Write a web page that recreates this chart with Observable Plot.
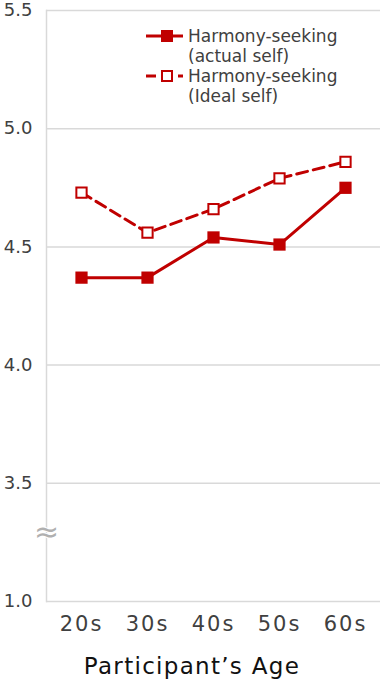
<!DOCTYPE html>
<html>
<head>
<meta charset="utf-8">
<script src="https://cdn.jsdelivr.net/npm/d3@7"></script>
<script src="https://cdn.jsdelivr.net/npm/@observablehq/plot@0.6"></script>
<style>
  html, body { margin: 0; padding: 0; background: #fff; }
  #wrap { position: relative; width: 383px; height: 686px; font-family: "DejaVu Sans", sans-serif; }
  .leg { position: absolute; left: 145px; height: 40px; }
  .leg svg { position: absolute; left: 0; top: 0; }
  .leg .txt { position: absolute; left: 43px; top: 0; font-size: 17px; line-height: 20px; color: #404040; white-space: nowrap; }
</style>
</head>
<body>
<div id="wrap"></div>
<script>
const ages = ["20s", "30s", "40s", "50s", "60s"];
const actualSelf = [4.37, 4.37, 4.54, 4.51, 4.75];
const idealSelf = [4.73, 4.56, 4.66, 4.79, 4.86];
const seriesNames = ["Harmony-seeking (actual self)", "Harmony-seeking (Ideal self)"];
const legendLines = [["Harmony-seeking", "(actual self)"], ["Harmony-seeking", "(Ideal self)"]];
const yTicks = [3.0, 3.5, 4.0, 4.5, 5.0, 5.5];
const yTickLabels = ["1.0", "3.5", "4.0", "4.5", "5.0", "5.5"];
const xTitle = "Participant\u2019s Age";
const breakMark = "\u2248";

const red = "#c00000";
const grid = "#d9d9d9";

const actualData = ages.map((a, i) => ({age: a, value: actualSelf[i], series: seriesNames[0]}));
const idealData = ages.map((a, i) => ({age: a, value: idealSelf[i], series: seriesNames[1]}));

const chart = Plot.plot({
  width: 383,
  height: 686,
  marginTop: 10,
  marginLeft: 46,
  marginRight: 3,
  marginBottom: 85,
  style: {fontFamily: "DejaVu Sans, sans-serif", background: "#fff"},
  x: {type: "point", domain: ages, padding: 0.5},
  y: {domain: [3.0, 5.5]},
  marks: [
    Plot.gridY(yTicks, {stroke: grid, strokeOpacity: 1, strokeWidth: 1.5}),
    Plot.frame({anchor: "left", stroke: grid, strokeWidth: 1.5}),
    Plot.axisY({ticks: yTicks, tickSize: 0, tickPadding: 14, fontSize: 18, fill: "#404040",
      tickFormat: d => yTickLabels[yTicks.indexOf(d)], label: null}),
    Plot.axisX({tickSize: 0, tickPadding: 15, fontSize: 21, fill: "#404040", label: null}),
    Plot.text([breakMark], {frameAnchor: "bottom-left", textAnchor: "middle", lineAnchor: "middle",
      dy: -69, fontSize: 30, fill: "#b0b0b0", stroke: "#fff", strokeWidth: 2, paintOrder: "stroke"}),
    Plot.text([xTitle], {frameAnchor: "bottom", dy: 72, dx: -21.5, fontSize: 23, fill: "#111"}),
    Plot.line(idealData, {x: "age", y: "value", stroke: red, strokeWidth: 3, strokeDasharray: "11,6"}),
    Plot.line(actualData, {x: "age", y: "value", stroke: red, strokeWidth: 3}),
    Plot.dot(idealData, {x: "age", y: "value", symbol: "square", r: 5.8, fill: "#fff", stroke: red, strokeWidth: 2}),
    Plot.dot(actualData, {x: "age", y: "value", symbol: "square", r: 6.9, fill: red, stroke: "none"})
  ]
});

d3.select(chart).selectAll('g[aria-label="x-axis tick label"] text').attr("letter-spacing", "2px");
d3.select(chart).selectAll('g[aria-label="text"] text').filter(function(){ return this.textContent === xTitle; }).attr("letter-spacing", "1.3px");

const wrap = document.getElementById("wrap");
wrap.appendChild(chart);

// legend
const legendTops = [26, 66];
legendLines.forEach((lines, i) => {
  const item = document.createElement("div");
  item.className = "leg";
  item.style.top = legendTops[i] + "px";
  const s = d3.create("svg").attr("width", 40).attr("height", 20);
  if (i === 0) {
    s.append("line").attr("x1", 1).attr("x2", 38).attr("y1", 10).attr("y2", 10).attr("stroke", red).attr("stroke-width", 3);
    s.append("rect").attr("x", 16).attr("y", 4).attr("width", 12).attr("height", 12).attr("fill", red);
  } else {
    s.append("line").attr("x1", 1).attr("x2", 38).attr("y1", 10).attr("y2", 10).attr("stroke", red).attr("stroke-width", 3).attr("stroke-dasharray", "10,6");
    s.append("rect").attr("x", 17).attr("y", 5).attr("width", 10).attr("height", 10).attr("fill", "#fff").attr("stroke", red).attr("stroke-width", 2);
  }
  item.appendChild(s.node());
  const t = document.createElement("div");
  t.className = "txt";
  t.innerHTML = lines.join("<br>");
  item.appendChild(t);
  wrap.appendChild(item);
});
</script>
</body>
</html>
